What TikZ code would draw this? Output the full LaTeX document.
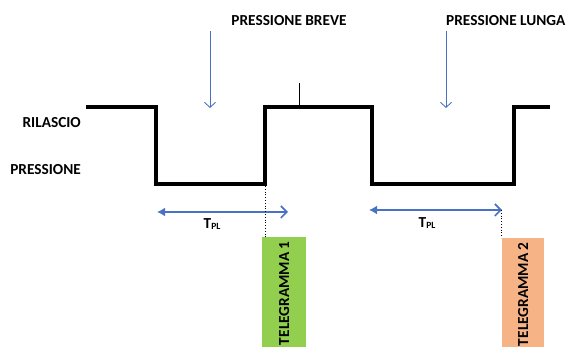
\documentclass[tikz,border=0pt]{standalone}
\usepackage{fontspec}
\setmainfont{Carlito}
\usetikzlibrary{arrows.meta}

\definecolor{arrowblue}{HTML}{4A72C4}
\definecolor{telegreen}{HTML}{92CF4E}
\definecolor{teleorange}{HTML}{F6B486}

\begin{document}
\begin{tikzpicture}[x=1pt,y=-1pt,
		lbl/.style={font=\bfseries\fontsize{15.3}{17}\selectfont, inner sep=0pt},
		pressarrow/.style={draw=arrowblue, line width=0.9pt, -{Straight Barb[length=5pt,width=11pt]}},
		spanarrow/.style={draw=arrowblue, line width=1.6pt, {Latex[length=8pt,width=9pt]}-{Straight Barb[length=6pt,width=12pt]}},
		telebox/.style={minimum width=44pt, minimum height=112pt, inner sep=0pt, anchor=north west}]
		\useasboundingbox (0,0) rectangle (566,347);
		
		% segnale
		\draw[line width=4pt, line join=miter]
			(86,107) -- (156,107) -- (156,184) -- (265,184) -- (265,107)
			-- (372,107) -- (372,184) -- (514,184) -- (514,107) -- (550,107);
		\draw[thin] (299,83) -- (299,105);
		
		\node[lbl, anchor=east] (ril) at (81,123) {RILASCIO};
		\node[lbl, anchor=east] (pre) at (81,170) {PRESSIONE};
		
		\node[lbl] (breve) at (289,21) {PRESSIONE BREVE};
		\node[lbl, anchor=west] (lunga) at (446,21) {PRESSIONE LUNGA};
		
		\coordinate (b0) at (210,31);
		\coordinate (b1) at (210,108);
		\coordinate (l0) at (446,31);
		\coordinate (l1) at (446,108);
		\draw[pressarrow] (b0) -- (b1);
		\draw[pressarrow] (l0) -- (l1);
		
		% tempi
		\coordinate (t1a) at (157,212);
		\coordinate (t1b) at (288,212);
		\coordinate (t2a) at (369,210);
		\coordinate (t2b) at (502,210);
		\draw[spanarrow] (t1a) -- (t1b);
		\draw[spanarrow] (t2a) -- (t2b);
		\node[lbl] (tpl1) at (212,224) {T{\fontsize{9.5}{10}\selectfont\raisebox{-0.25ex}{PL}}};
		\node[lbl] (tpl2) at (427,223) {T{\fontsize{9.5}{10}\selectfont\raisebox{-0.25ex}{PL}}};
		
		% telegrammi
		\node[telebox, fill=telegreen] (tg1) at (262,237) {};
		\node[telebox, fill=teleorange, minimum width=42pt] (tg2) at (502,238) {};
		\node[lbl, rotate=90] at (tg1.center) {TELEGRAMMA 1};
		\node[lbl, rotate=90] at (tg2.center) {TELEGRAMMA 2};
		
		\coordinate (d1) at (265,186);
		\coordinate (d2) at (501,210);
		\draw[dotted, thick] (d1) -- (tg1.north west -| d1);
		\draw[dotted, thick] (d2) -- (tg2.north west -| d2);
	\end{tikzpicture}
\end{document}
